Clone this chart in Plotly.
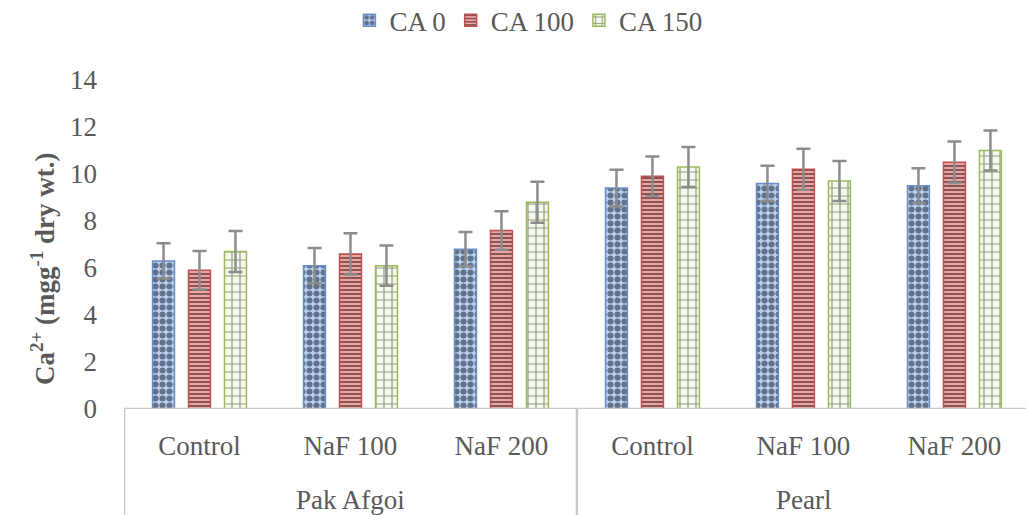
import plotly.graph_objects as go

# Treatments on the category axis, grouped by cultivar
treatments = ["Control", "NaF 100", "NaF 200", "Control", "NaF 100", "NaF 200"]
cultivars = ["Pak Afgoi", "Pearl"]

# Ca2+ content (mg g-1 dry wt.) for each CA level
ca0 = [6.3, 6.1, 6.8, 9.4, 9.6, 9.5]
ca100 = [5.9, 6.6, 7.6, 9.9, 10.2, 10.5]
ca150 = [6.7, 6.1, 8.8, 10.3, 9.7, 11.0]

# Standard errors
err0 = [0.75, 0.75, 0.73, 0.78, 0.75, 0.74]
err100 = [0.82, 0.88, 0.82, 0.85, 0.87, 0.88]
err150 = [0.87, 0.86, 0.87, 0.85, 0.85, 0.85]

positions = list(range(len(treatments)))
serif = "Liberation Serif"
grey_text = "#595959"

series = [
    ("CA 0", ca0, err0, dict(shape=".", fgcolor="#0a1426", bgcolor="#b8d0ef", size=7, solidity=0.6), "#6a8fc7"),
    ("CA 100", ca100, err100, dict(shape="-", fgcolor="#2a0808", bgcolor="#eba3a3", size=4, solidity=0.5), "#c0504d"),
    ("CA 150", ca150, err150, dict(shape="+", fgcolor="#26400a", bgcolor="#f6faee", size=8, solidity=0.28), "#9bbb59"),
]

fig = go.Figure()
for name, vals, errs, pat, edge in series:
    fig.add_trace(go.Bar(
        name=name,
        x=positions,
        y=vals,
        marker=dict(color=pat["bgcolor"], pattern=pat, line=dict(color=edge, width=1.5)),
        error_y=dict(type="data", array=errs, visible=True, color="#8c8c8c", thickness=2.5, width=7),
    ))

# Multi-level category frame below the bars
line_style = dict(color="#c8c8c8", width=2.5)
fig.add_shape(type="line", xref="paper", yref="y", x0=0, x1=1, y0=0, y1=0, line=line_style)
for xb in [-0.5, 2.5, 5.5]:
    fig.add_shape(type="line", xref="x", yref="paper", x0=xb, x1=xb, y0=0, y1=-0.35, line=line_style)

# Cultivar labels under each group of treatments
for i, name in enumerate(cultivars):
    fig.add_annotation(x=1 + 3 * i, y=-0.278, xref="x", yref="paper", text=name, showarrow=False,
                       font=dict(family=serif, size=27, color=grey_text), yanchor="middle")

# Y axis title
fig.add_annotation(x=-0.09, y=0.425, xref="paper", yref="paper", textangle=-90, showarrow=False,
                   text="<b>Ca<sup>2+</sup> (mgg<sup>-1</sup> dry wt.)</b>",
                   font=dict(family=serif, size=27, color=grey_text), xanchor="center", yanchor="middle")

fig.update_layout(
    width=1026, height=515,
    margin=dict(l=124, r=0, t=80, b=106),
    plot_bgcolor="white", paper_bgcolor="white",
    barmode="group", bargap=0.285, bargroupgap=0.39,
    font=dict(family=serif, size=27, color=grey_text),
    legend=dict(orientation="h", x=0.515, y=0.96, xref="container", yref="container",
                xanchor="center", yanchor="middle", font=dict(family=serif, size=27, color=grey_text),
                itemwidth=30, tracegroupgap=0),
    showlegend=True,
)
fig.update_xaxes(range=[-0.5, 5.474], tickmode="array", tickvals=positions, ticktext=treatments,
                 showgrid=False, showline=False, zeroline=False, ticks="", ticklabelstandoff=18,
                 tickfont=dict(family=serif, size=27, color=grey_text))
fig.update_yaxes(range=[0, 14], dtick=2, showgrid=False, showline=False, zeroline=False, ticks="",
                 ticklabelstandoff=26, tickfont=dict(family=serif, size=27, color=grey_text))

fig.write_html("out.html")
